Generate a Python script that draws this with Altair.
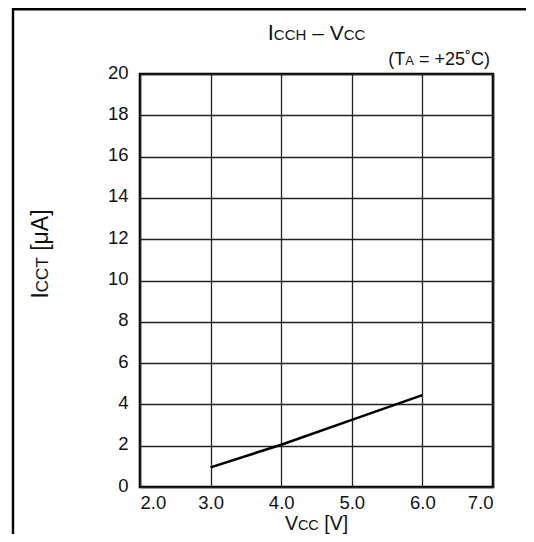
import altair as alt
import pandas as pd

# ---- data ----
vcc = [3.0, 4.0, 5.0, 6.0]
icc = [0.95, 2.05, 3.25, 4.45]
x_ticks = [2.0, 3.0, 4.0, 5.0, 6.0, 7.0]
y_ticks = [0, 2, 4, 6, 8, 10, 12, 14, 16, 18, 20]

FONT = "Liberation Sans"
W, H = 353, 413

# Arial / Liberation Sans advance widths (per 1000 em)
ADV = {"I": 278, "C": 722, "H": 722, "V": 667, "T": 611, "A": 667, " ": 278,
       "–": 556, "(": 333, ")": 333, "=": 584, "+": 584, "2": 556, "5": 556,
       "˚": 333, "[": 278, "]": 278, "μ": 576, ".": 278}


def run_width(s, size):
    return sum(ADV.get(c, 556) for c in s) * size / 1000.0


def rich(runs, start, base, angle=0, anchor="left"):
    """runs: list of (text, fontsize). Lay out consecutively."""
    total = sum(run_width(t, s) for t, s in runs)
    sign = 1 if angle == 0 else -1
    if anchor == "center":
        start = start - sign * total / 2.0
    elif anchor == "right":
        start = start - sign * total
    layers = []
    pos = start
    for t, s in runs:
        lead = len(t) - len(t.lstrip(" "))
        pos += sign * run_width(" " * lead, s)
        txt = t.strip(" ")
        if angle == 0:
            enc = dict(x=alt.value(pos), y=alt.value(base))
        else:
            enc = dict(x=alt.value(base), y=alt.value(pos))
        layers.append(
            alt.Chart(alt.Data(values=[{}]))
            .mark_text(text=txt, font=FONT, fontSize=s, align="left",
                       baseline="alphabetic", angle=angle, color="#111")
            .encode(**enc)
        )
        pos += sign * run_width(txt, s)
    return layers


df = pd.DataFrame({"vcc": vcc, "icc": icc})

line = alt.Chart(df).mark_line(color="black", strokeWidth=2.6).encode(
    x=alt.X("vcc:Q", scale=alt.Scale(domain=[2, 7], nice=False),
            axis=alt.Axis(values=x_ticks, format=".1f", title=None,
                          labelFontSize=18.5, labelPadding=6, labelFont=FONT,
                          labelColor="#111")),
    y=alt.Y("icc:Q", scale=alt.Scale(domain=[0, 20], nice=False),
            axis=alt.Axis(values=y_ticks, title=None, labelFontSize=18.5,
                          labelPadding=12, labelFont=FONT, labelColor="#111",
                          labelBaseline="middle", labelOffset=-2)),
)

border = alt.Chart(alt.Data(values=[{}])).mark_rect(
    fill=None, stroke="black", strokeWidth=2.4, clip=False
).encode(x=alt.value(-127), x2=alt.value(W + 200), y=alt.value(-64.8), y2=alt.value(H + 200))

texts = []
texts += rich([("I", 22), ("CCH", 15), (" – V", 21), ("CC", 15)], W / 2.0, -34, anchor="center")
texts += rich([("(T", 18), ("A", 13), (" = +25˚C)", 18)], 350, -9, anchor="right")
texts += rich([("V", 19.5), ("CC", 14.5), (" [V]", 19.5)], W / 2.0, 455.5, anchor="center")

# rotated y title, reading bottom to top
texts += rich([("I", 23), ("CCT", 17), (" [μA]", 23)], 180, -92, angle=270, anchor="center")

chart = alt.layer(line, border, *texts).properties(
    width=W, height=H,
    autosize=alt.AutoSizeParams(type="none"),
    padding={"left": 132, "top": 66, "right": 33, "bottom": 47},
).configure_view(stroke="black", strokeWidth=2.6).configure_axis(
    grid=True, gridColor="#222", gridWidth=1.3, domain=False, ticks=False
)

chart.save("out.html", embed_options={"renderer": "svg", "actions": False})
